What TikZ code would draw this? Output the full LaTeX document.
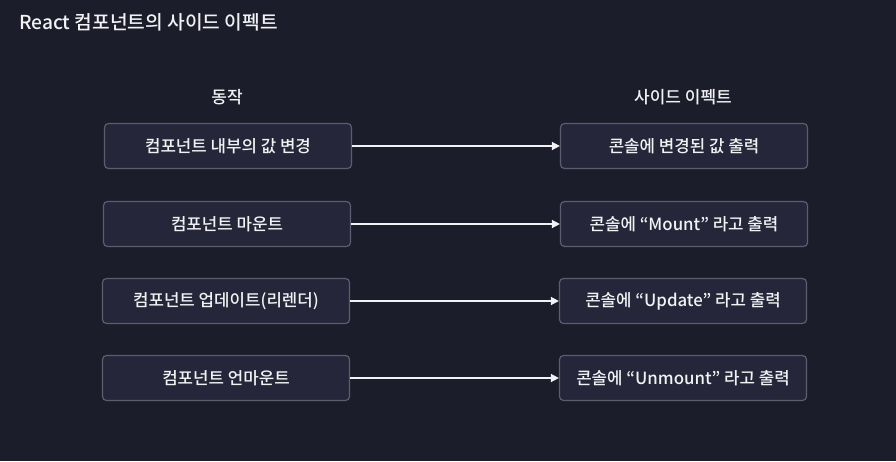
\documentclass[tikz,border=0pt]{standalone}
\usepackage{fontspec}
\setmainfont{Noto Sans CJK KR}[BoldFont={Noto Sans CJK KR Bold}]
\newfontfamily\krmed{Noto Sans CJK KR Medium}
\usetikzlibrary{arrows.meta}
\definecolor{bg}{HTML}{1C1D2B}
\definecolor{boxfill}{HTML}{25263A}
\definecolor{boxline}{HTML}{5C5E6E}
\definecolor{fg}{HTML}{F2F2F4}
\begin{document}
\begin{tikzpicture}[x=1pt,y=-1pt,
    box/.style={draw=boxline, fill=boxfill, rounded corners=4pt, line width=1.2pt,
      minimum width=247pt, minimum height=45pt, inner sep=0pt, text=fg,
      font=\fontsize{16.8}{20}\selectfont\krmed},
    head/.style={text=fg, inner sep=0pt, font=\fontsize{17}{20}\selectfont\krmed}]
      \fill[bg] (0,0) rectangle (896,461);
      \node[head, anchor=west, font=\fontsize{19.2}{23}\selectfont\krmed] (title) at (19,22) {React 컴포넌트의 사이드 이펙트};
      \node[head] (act) at (227,97) {동작};
      \node[head] (eff) at (683,97) {사이드 이펙트};
      \draw
        (228,146) node[box] (a1) {컴포넌트 내부의 값 변경}
        (227,224) node[box] (a2) {컴포넌트 마운트}
        (226,301) node[box] (a3) {컴포넌트 업데이트(리렌더)}
        (226,378) node[box] (a4) {컴포넌트 언마운트}
        (684,146) node[box] (e1) {콘솔에 변경된 값 출력}
        (684,224) node[box] (e2) {콘솔에 “Mount” 라고 출력}
        (683,301) node[box] (e3) {콘솔에 “Update” 라고 출력}
        (683,378) node[box] (e4) {콘솔에 “Unmount” 라고 출력};
      \begin{scope}[-{Triangle[length=8pt,width=8pt]}, line width=1.5pt, draw=fg, fill=fg]
        \draw (a1) to (e1);
        \draw (a2) to (e2);
        \draw (a3) to (e3);
        \draw (a4) to (e4);
      \end{scope}
    \end{tikzpicture}
\end{document}
